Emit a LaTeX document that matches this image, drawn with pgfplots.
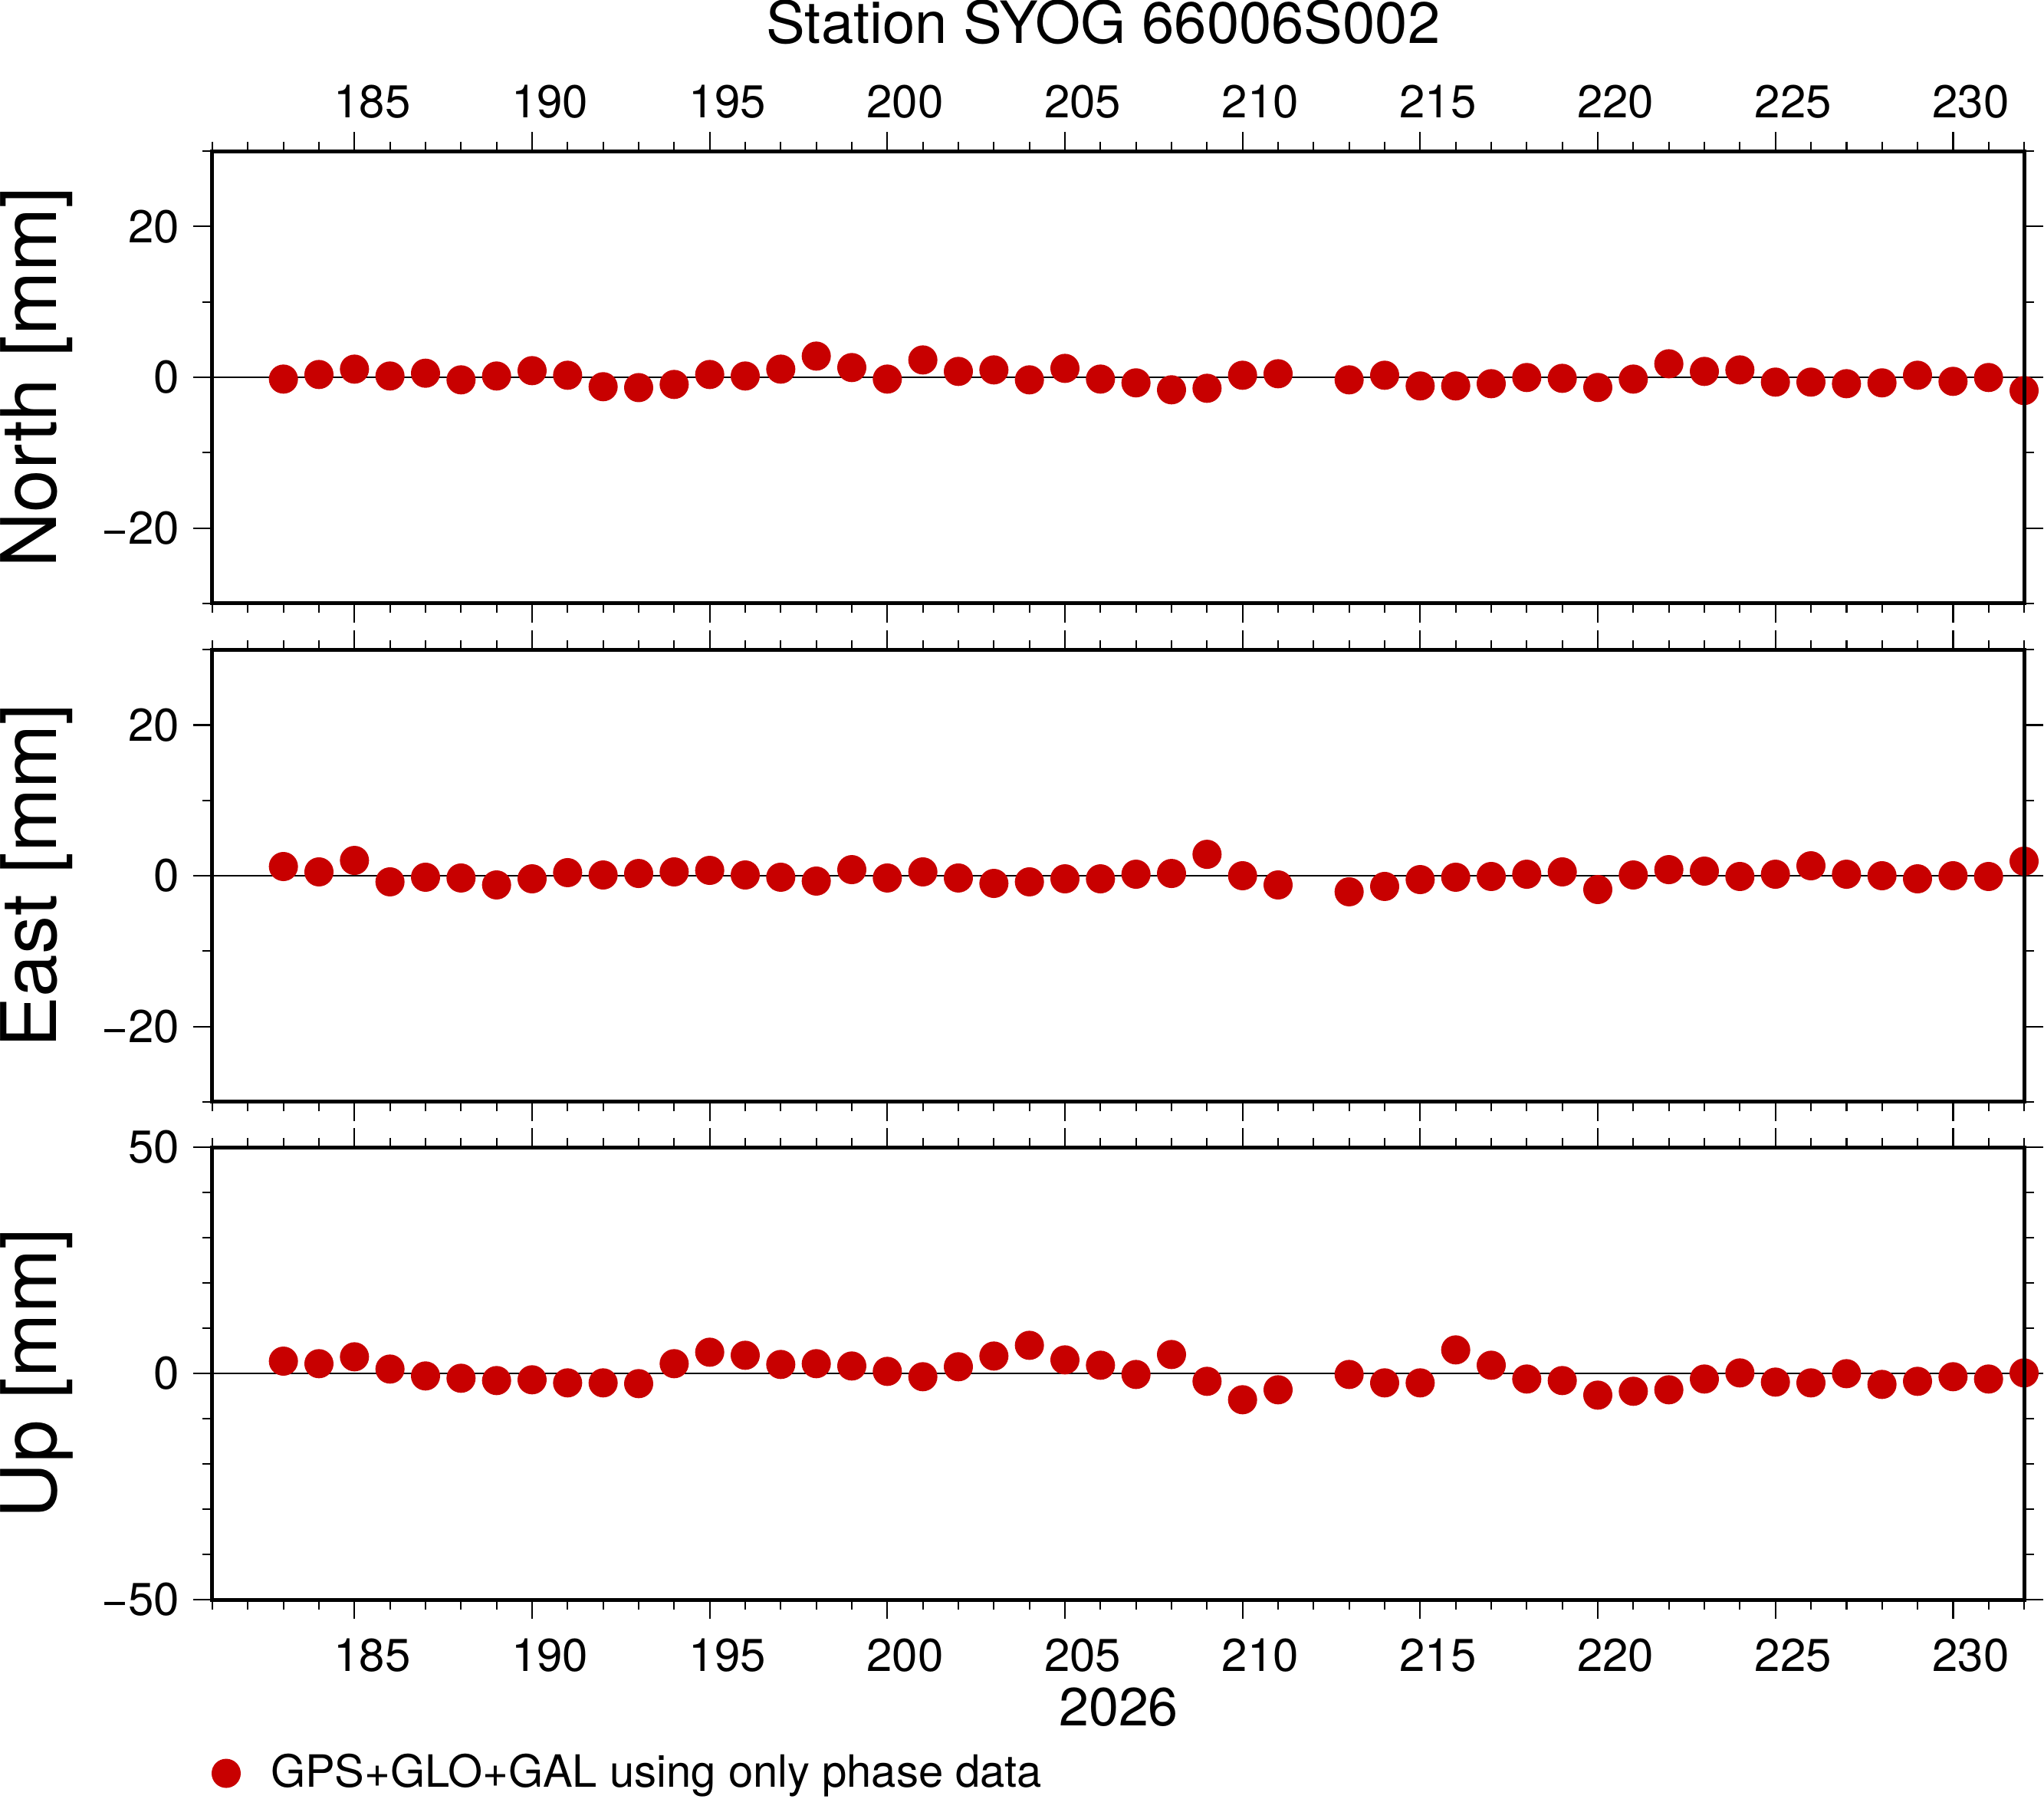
\documentclass[border=0pt]{standalone}
\usepackage{fontspec}
\setmainfont{TeX Gyre Heros}
\usepackage{pgfplots}
\usepackage{pgfplotstable}
\pgfplotsset{compat=1.18}
\definecolor{dotred}{RGB}{200,0,0}

\pgfplotstableread{
day val
183 -0.24
184 0.37
185 1.08
186 0.17
187 0.54
188 -0.34
189 0.17
190 0.88
191 0.27
192 -1.25
193 -1.37
194 -0.95
195 0.37
196 0.17
197 1.08
198 2.81
199 1.29
200 -0.24
201 2.30
202 0.78
203 0.98
204 -0.34
205 1.18
206 -0.24
207 -0.74
208 -1.66
209 -1.46
210 0.27
211 0.47
213 -0.34
214 0.27
215 -1.15
216 -1.15
217 -0.85
218 -0.03
219 -0.14
220 -1.35
221 -0.24
222 1.79
223 0.78
224 0.98
225 -0.64
226 -0.64
227 -0.85
228 -0.74
229 0.27
230 -0.54
231 -0.03
232 -1.76
}\northdata

\pgfplotstableread{
day val
183 1.22
184 0.51
185 2.03
186 -0.81
187 -0.20
188 -0.30
189 -1.22
190 -0.41
191 0.41
192 0.10
193 0.30
194 0.51
195 0.71
196 0.10
197 -0.20
198 -0.71
199 0.81
200 -0.30
201 0.51
202 -0.30
203 -1.02
204 -0.81
205 -0.41
206 -0.41
207 0.20
208 0.30
209 2.84
210 0.00
211 -1.22
213 -2.13
214 -1.42
215 -0.51
216 -0.20
217 -0.10
218 0.20
219 0.51
220 -1.83
221 0.10
222 0.81
223 0.61
224 -0.10
225 0.20
226 1.32
227 0.20
228 0.00
229 -0.41
230 0.00
231 -0.10
232 1.93
}\eastdata

\pgfplotstableread{
day val
183 2.71
184 2.15
185 3.67
186 0.96
187 -0.56
188 -1.07
189 -1.58
190 -1.41
191 -2.09
192 -2.09
193 -2.26
194 2.15
195 4.69
196 4.01
197 1.98
198 2.15
199 1.64
200 0.45
201 -0.73
202 1.47
203 3.84
204 6.21
205 2.99
206 1.81
207 -0.23
208 4.18
209 -1.75
210 -5.82
211 -3.62
213 -0.23
214 -2.09
215 -2.09
216 5.20
217 1.81
218 -1.24
219 -1.58
220 -4.80
221 -3.95
222 -3.62
223 -1.24
224 0.11
225 -1.92
226 -2.09
227 -0.06
228 -2.43
229 -1.75
230 -0.73
231 -1.24
232 0.11
}\updata

\pgfplotsset{
  gpsbase/.style={
    scale only axis, width=472.6pt, height=118pt,
    xmin=181, xmax=232,
    xtick={185,190,...,230},
    minor xtick={181,...,232},
    tick align=outside,
    major tick length=5pt, minor tick length=2.5pt,
    tick style={black, line width=0.46pt},
    axis line style={line width=1pt},
    xtick pos=both, ytick pos=both,
    yticklabel pos=left,
    /pgf/number format/assume math mode=true,
    tick label style={font=\fontsize{12}{14}\selectfont},
    clip=false,
    every axis y label/.style={at={(axis description cs:-0.0861,0.5)}, anchor=base, rotate=90, font=\fontsize{20}{24}\selectfont},
    after end axis/.code={\draw[black, line width=1pt, line join=miter] (rel axis cs:0,0) rectangle (rel axis cs:1,1);},
  },
  dots/.style={only marks, mark=*, mark size=3.6pt, color=dotred, mark options={draw=none, fill=dotred}},
}

\begin{document}
\begin{tikzpicture}
\useasboundingbox (0,0) rectangle (533.2pt,-469pt);

\node[anchor=base, font=\fontsize{15.2}{17}\selectfont] at (287.8pt,-11.2pt) {Station SYOG 66006S002};

\begin{axis}[gpsbase, at={(55.4pt,-39.4pt)}, anchor=north west,
  ymin=-30, ymax=30, ytick={-20,0,20}, yticklabels={−20,0,20},
  minor ytick={-30,-10,10,30},
  xticklabel pos=upper,
  xticklabel style={xshift=4.63pt},
  ylabel={North [mm]}]
  \draw[black, line width=0.3pt] (axis cs:181,0) -- (axis cs:232,0);
  \addplot[dots] table[x=day, y=val] {\northdata};
\end{axis}

\begin{axis}[gpsbase, at={(55.4pt,-169.4pt)}, anchor=north west,
  ymin=-30, ymax=30, ytick={-20,0,20}, yticklabels={−20,0,20},
  minor ytick={-30,-10,10,30},
  xticklabels={},
  ylabel={East [mm]}]
  \draw[black, line width=0.3pt] (axis cs:181,0) -- (axis cs:232,0);
  \addplot[dots] table[x=day, y=val] {\eastdata};
\end{axis}

\begin{axis}[gpsbase, at={(55.4pt,-299.2pt)}, anchor=north west,
  ymin=-50, ymax=50, ytick={-50,0,50}, yticklabels={−50,0,50},
  minor ytick={-40,-30,-20,-10,10,20,30,40},
  xticklabel pos=lower,
  xticklabel style={xshift=4.63pt, yshift=-1.7pt},
  ylabel={Up [mm]},
  legend style={at={(axis description cs:0,-0.384)}, anchor=west, draw=none, fill=none,
    inner sep=0pt, outer sep=0pt, font=\fontsize{11.6}{14}\selectfont},
  legend cell align=left,
  legend image code/.code={\path[draw=none, fill=none] (0pt,-1pt) -- (13.2pt,-1pt); \draw[mark repeat=2,mark phase=2,#1] plot coordinates {(0pt,0pt) (3.6pt,0pt) (7.2pt,0pt)};}]
  \draw[black, line width=0.3pt] (axis cs:181,0) -- (axis cs:232,0);
  \addplot[dots] table[x=day, y=val] {\updata};
  \addlegendentry{GPS+GLO+GAL using only phase data}
\end{axis}

\node[anchor=base, font=\fontsize{14}{16}\selectfont] at (291.8pt,-450pt) {2026};
\end{tikzpicture}
\end{document}
